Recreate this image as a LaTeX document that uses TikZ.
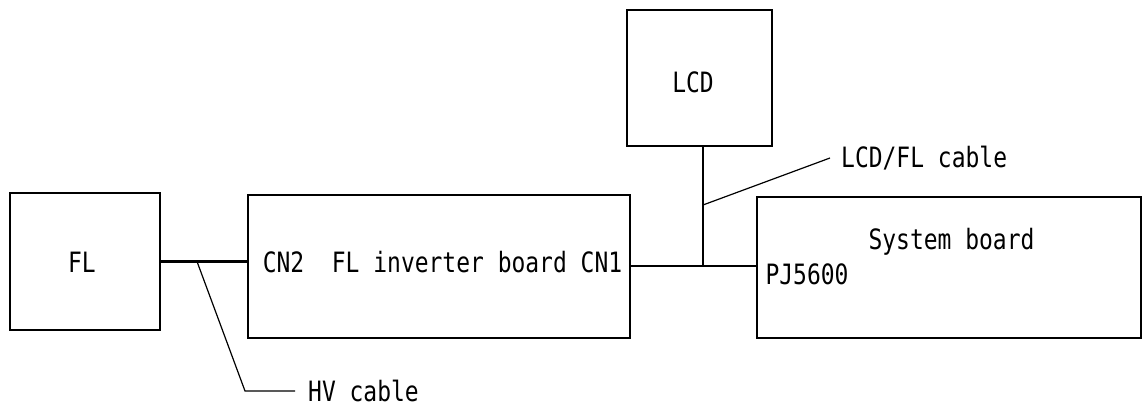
\documentclass[tikz,border=0pt]{standalone}
\usepackage{fontspec}
\newfontfamily\diagfont{DejaVu Sans Mono}[FakeStretch=0.82]
\usetikzlibrary{positioning}

\begin{document}
\begin{tikzpicture}[x=1pt, y=1pt, font=\diagfont\fontsize{28pt}{33pt}\selectfont,
    box/.style={draw, rectangle, line width=2.8pt, inner sep=0pt},
    cable/.style={line width=2.8pt},
    leader/.style={line width=1.2pt},
    lbl/.style={inner sep=0pt, anchor=base}]
        \useasboundingbox (0,0) rectangle (1143,406);

        % Boxes
        \node (fl) [box, minimum width=150pt, minimum height=137pt] at (85,144.5) {};
        \node (inv) [box, minimum width=382pt, minimum height=143pt] at (439,139.5) {};
        \node (lcd) [box, minimum width=145pt, minimum height=136pt] at (699.5,328) {};
        \node (sys) [box, minimum width=384pt, minimum height=141pt] at (949,138.5) {};

        % Box texts
        \node (fltext) [lbl] at (82,133) {FL};
        \node (lcdtext) [lbl] at (693,313) {LCD};
        \node (invtext) [lbl] at (442.5,133) {CN2\ \ FL inverter board CN1};
        \node (systext) [lbl] at (951.5,156) {System board};
        \node (pjtext) [lbl] at (807,121) {PJ5600};

        % Cables
        \coordinate (jct) at (703,140);
        \draw[cable] (fl.east) -- (fl.east -| inv.west);
        \draw[cable] (inv.east |- jct) -- (sys.west |- jct);
        \draw[cable] (lcd.south -| jct) -- (jct);

        % Cable names
        \coordinate (hvtap) at (197,144.5);
        \coordinate (hvbend) at (245,15);
        \node (hvtext) [anchor=west, inner xsep=13pt, inner ysep=0pt] at (295,15) {HV cable};
        \draw[leader] (hvtap) -- (hvbend) -- (hvtext.west);

        \coordinate (lcdtap) at (703,201);
        \node (lcdfltext) [anchor=west, inner xsep=11pt, inner ysep=0pt] at (830,248) {LCD/FL cable};
        \draw[leader] (lcdtap) -- (lcdfltext.west);
\end{tikzpicture}
\end{document}
